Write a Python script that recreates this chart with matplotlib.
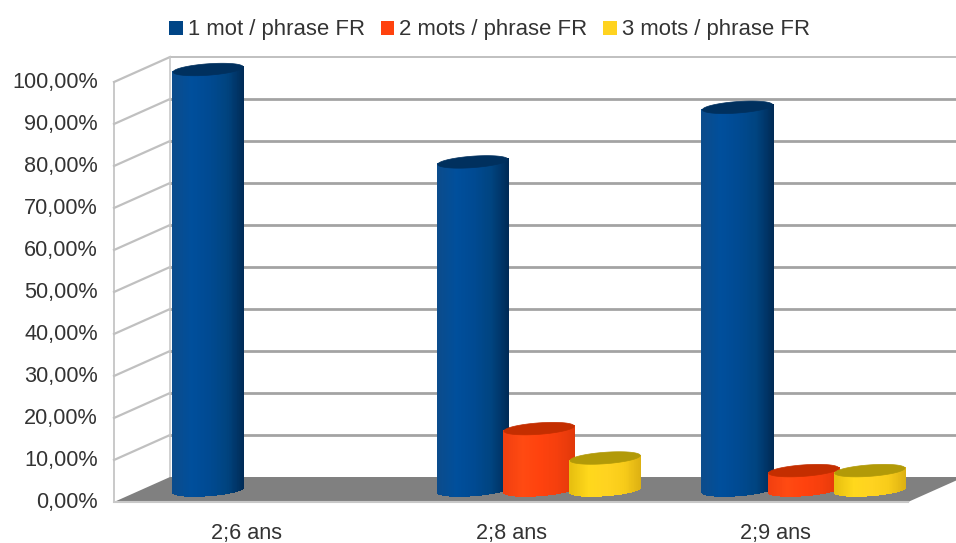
#!/usr/bin/python3

import matplotlib;matplotlib.use('Agg')
import numpy as np
import matplotlib.pyplot as plt
from matplotlib.collections import PolyCollection
from matplotlib.colors import LinearSegmentedColormap
from matplotlib.patches import Patch
from matplotlib.transforms import ScaledTranslation

CATEGORIES = ['2;6 ans', '2;8 ans', '2;9 ans']
SERIES_NAMES = ['1 mot / phrase FR', '2 mots / phrase FR', '3 mots / phrase FR']
ONE_WORD = [100, 78, 91]
TWO_WORDS = [0, 14.5, 4.5]
THREE_WORDS = [0, 7.5, 4.5]
Y_TICKS = [0, 10, 20, 30, 40, 50, 60, 70, 80, 90, 100]

COLORS = ['#004586', '#ff420e', '#ffd320']
TOP_COLORS = ['#00305e', '#c42e00', '#b29a08']
SHADES = [
    ['#0b4c8c', '#004f9c', '#004a92', '#004480', '#002a55'],
    ['#f24010', '#ff4a12', '#ff420e', '#f53f0d', '#e0380a'],
    ['#e8c010', '#ffd81c', '#ffd320', '#f8cc1a', '#dcb012'],
]

TEXT_COLOR = '#333333'
FONT_SIZE = 15.6

# oblique projection: one unit of depth moves this much in data units
DEPTH_X = 0.2116
DEPTH_Y = 5.95
BAR_STEP = 0.25
BAR_RADIUS = 0.1215
BAR_DEPTH = 0.25

plt.rcParams['font.family'] = ['Liberation Sans', 'DejaVu Sans']
plt.rcParams['font.size'] = FONT_SIZE


def project(x, y, z):
    return x + DEPTH_X * z, y + DEPTH_Y * z


def rim(cx, y, t):
    # circle lying in the floor plane, seen obliquely
    px, py = project(cx + BAR_RADIUS * np.cos(t), y, 0.5 + BAR_DEPTH * np.sin(t))
    return px, py


def draw_walls(ax):
    floor = [project(0, 0, 0), project(0, 0, 1), project(3, 0, 1), project(3, 0, 0)]
    ax.fill(*zip(*floor), color='#808080', lw=0, zorder=2, clip_on=False)
    ax.plot(*zip(project(0, 0, 0), project(3, 0, 0)), color='#c8c8c8', lw=1.5,
            zorder=2, clip_on=False)
    for tick in Y_TICKS[1:]:
        color = '#a3a3a3' if tick < 100 else '#c0c0c0'
        lw = 2.0 if tick < 100 else 1.4
        ax.plot(*zip(project(0, tick, 1), project(3, tick, 1)), color=color, lw=lw,
                zorder=1, clip_on=False)
        ax.plot(*zip(project(0, tick, 0), project(0, tick, 1)), color='#c0c0c0', lw=1.6,
                zorder=1, clip_on=False)
    ax.plot(*zip(project(0, 0, 0), project(0, 100, 0)), color='#c0c0c0', lw=1.2,
            zorder=1, clip_on=False)
    ax.plot(*zip(project(0, 0, 1), project(0, 100, 1)), color='#c8c8c8', lw=1.2,
            zorder=1, clip_on=False)


def draw_cylinder(ax, cx, value, series, zorder):
    # pixel aspect differs per axis, so work out the silhouette in pixels
    x_px = ax.get_window_extent().width / 3.0
    dx = DEPTH_X * BAR_DEPTH * x_px
    a = BAR_RADIUS * x_px
    t_right = np.arctan2(dx, a)
    ts = np.linspace(t_right, t_right - np.pi, 90)
    xs, low = rim(cx, 0, ts)
    _, high = rim(cx, value, ts)

    cmap = LinearSegmentedColormap.from_list('shade', SHADES[series])
    strips = []
    tones = []
    for i in range(len(ts) - 1):
        strips.append([(xs[i], low[i]), (xs[i + 1], low[i + 1]),
                       (xs[i + 1], high[i + 1]), (xs[i], high[i])])
        u = (0.5 * (xs[i] + xs[i + 1]) - xs[-1]) / (xs[0] - xs[-1])
        tones.append(cmap(u))
    ax.add_collection(PolyCollection(strips, facecolors=tones, edgecolors=tones, lw=0.8,
                                     antialiaseds=False, zorder=zorder, clip_on=False))

    top = np.linspace(0, 2 * np.pi, 120)
    ax.fill(*rim(cx, value, top), color=TOP_COLORS[series], lw=0.5, zorder=zorder + 0.5,
            clip_on=False)


def nudge_labels(fig, labels, dy_px):
    for label in labels:
        label.set_transform(label.get_transform()
                            + ScaledTranslation(0, dy_px / 72.0 * 0.72, fig.dpi_scale_trans))


def draw_plot():
    fig = plt.figure(figsize=(9.56, 5.43), dpi=100)
    ax = fig.add_axes([114 / 956, 41 / 543, 794 / 956, 420 / 543])
    ax.set_xlim(0, 3)
    ax.set_ylim(0, 100)
    for spine in ax.spines.values():
        spine.set_visible(False)
    ax.patch.set_visible(False)

    draw_walls(ax)

    groups = np.arange(len(CATEGORIES)) + 0.5
    zorder = 3
    for g, center in enumerate(groups):
        values = [ONE_WORD[g], TWO_WORDS[g], THREE_WORDS[g]]
        for s, value in enumerate(values):
            if value > 0:
                draw_cylinder(ax, center + (s - 1) * BAR_STEP, value, s, zorder)
            zorder += 1

    ax.set_yticks(Y_TICKS)
    ax.set_yticklabels(['%d,00%%' % t for t in Y_TICKS], color=TEXT_COLOR)
    ax.set_xticks(groups)
    ax.set_xticklabels(CATEGORIES, color=TEXT_COLOR)
    ax.tick_params(axis='y', length=0, pad=11.5)
    ax.tick_params(axis='x', length=0, pad=15)
    nudge_labels(fig, ax.get_yticklabels(), 2)

    handles = [Patch(facecolor=c, edgecolor='none') for c in COLORS]
    fig.legend(handles, SERIES_NAMES, ncols=3, frameon=False, loc='center',
               bbox_to_anchor=(489.5 / 956, 1 - 30 / 543), handlelength=0.62, handleheight=0.62,
               handletextpad=0.22, columnspacing=0.72, labelcolor=TEXT_COLOR,
               fontsize=15.9, borderpad=0, borderaxespad=0)

    plt.savefig('out.png', dpi=100)


if __name__ == "__main__":
    draw_plot()
